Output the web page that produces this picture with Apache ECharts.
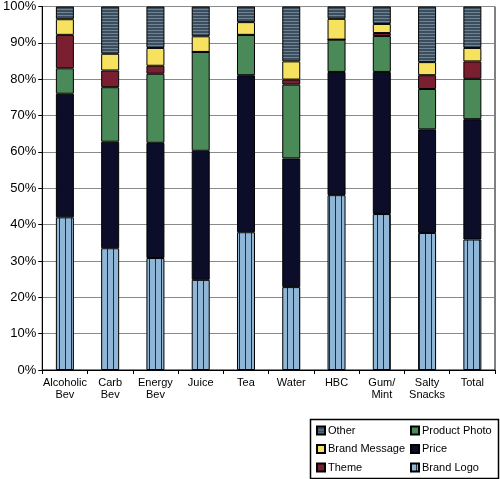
<!DOCTYPE html>
<html>
<head>
<meta charset="utf-8">
<script src="https://cdn.jsdelivr.net/npm/echarts@6/dist/echarts.min.js"></script>
<style>html,body{margin:0;padding:0;background:#fff;}#c{width:500px;height:479px;}</style>
</head>
<body>
<div id="c"></div>
<script>
const categories = ['Alcoholic\nBev','Carb\nBev','Energy\nBev','Juice','Tea','Water','HBC','Gum/\nMint','Salty\nSnacks','Total'];
const brandLogo    = [42.0, 33.5, 30.8, 24.8, 37.9, 22.8, 48.1, 42.9, 37.7, 35.9];
const price        = [34.0, 29.3, 31.7, 35.5, 43.2, 35.4, 33.9, 39.1, 28.5, 33.1];
const productPhoto = [ 7.0, 15.0, 19.0, 27.2, 11.1, 20.3,  8.9,  9.9, 11.1, 11.1];
const theme        = [ 9.2,  4.6,  2.2,  0.0,  0.0,  1.4,  0.0,  0.8,  3.8,  4.8];
const brandMessage = [ 4.3,  4.6,  4.9,  4.3,  3.5,  5.0,  5.7,  2.5,  3.6,  3.7];
const other        = [ 3.5, 13.0, 11.4,  8.2,  4.3, 15.1,  3.4,  4.8, 15.3, 11.4];
const yTicks = [0,10,20,30,40,50,60,70,80,90,100];

function makePattern(w, h, draw) {
  const cv = document.createElement('canvas');
  cv.width = w; cv.height = h;
  const ctx = cv.getContext('2d');
  draw(ctx);
  return { image: cv, repeat: 'repeat' };
}
const logoPattern = makePattern(6, 6, ctx => {
  ctx.fillStyle = '#8fb6d6'; ctx.fillRect(0,0,6,6);
  ctx.fillStyle = '#1c2c3c'; ctx.fillRect(5,0,1,6);
});
const otherPattern = makePattern(6, 3, ctx => {
  ctx.fillStyle = '#3c4e5e'; ctx.fillRect(0,0,6,3);
  ctx.fillStyle = '#6f8595'; ctx.fillRect(0,0,6,1);
});

const FONT = 'Liberation Sans, Arial, sans-serif';
function bar(name, data, color) {
  return {
    name, type: 'bar', stack: 'all', data, barWidth: 18,
    itemStyle: { color, borderColor: '#000', borderWidth: 1 },
    emphasis: { disabled: true }
  };
}
const legendText = { fontSize: 11, color: '#000', fontFamily: FONT, lineHeight: 13, padding: [0,0,0,-2] };
const chart = echarts.init(document.getElementById('c'), null, { renderer: 'canvas' });
chart.setOption({
  animation: false,
  textStyle: { fontFamily: FONT },
  grid: { left: 40, right: 5, top: 5, bottom: 109, show: true, borderColor: '#000', borderWidth: 1, backgroundColor: 'transparent' },
  xAxis: {
    type: 'category', data: categories,
    axisLine: { lineStyle: { color: '#000', width: 1 } },
    axisTick: { show: true, alignWithLabel: false, length: 4, lineStyle: { color: '#000' } },
    axisLabel: { color: '#000', fontSize: 11, fontFamily: FONT, lineHeight: 12, margin: 7, interval: 0 }
  },
  yAxis: {
    type: 'value', min: 0, max: 100, interval: 10,
    axisLine: { show: true, lineStyle: { color: '#000', width: 1 } },
    axisTick: { show: true, length: 4, lineStyle: { color: '#000' } },
    axisLabel: { color: '#000', fontSize: 13, fontFamily: FONT, margin: 6, formatter: v => yTicks.includes(v) ? v + '%' : '' },
    splitLine: { lineStyle: { color: '#8a8a8a', width: 1.2 } }
  },
  legend: [
    {
      orient: 'vertical', left: 316, top: 424, padding: 0, height: 60, itemWidth: 8, itemHeight: 8, itemGap: 5.5,
      icon: 'rect', data: ['Other','Brand Message','Theme'],
      textStyle: legendText, selectedMode: false
    },
    {
      orient: 'vertical', left: 410, top: 424, padding: 0, height: 60, itemWidth: 8, itemHeight: 8, itemGap: 5.5,
      icon: 'rect', data: ['Product Photo','Price','Brand Logo'],
      textStyle: legendText, selectedMode: false
    }
  ],
  graphic: [{
    type: 'rect', left: 308, top: 417, shape: { x: 0, y: 0, width: 188, height: 59 },
    style: { fill: 'none', stroke: '#000', lineWidth: 1.5 }, silent: true
  }],
  series: [
    bar('Brand Logo', brandLogo, logoPattern),
    bar('Price', price, '#0c0d28'),
    bar('Product Photo', productPhoto, '#4a8958'),
    bar('Theme', theme, '#7b1f30'),
    bar('Brand Message', brandMessage, '#f6e25e'),
    bar('Other', other, otherPattern)
  ]
});
</script>
</body>
</html>
